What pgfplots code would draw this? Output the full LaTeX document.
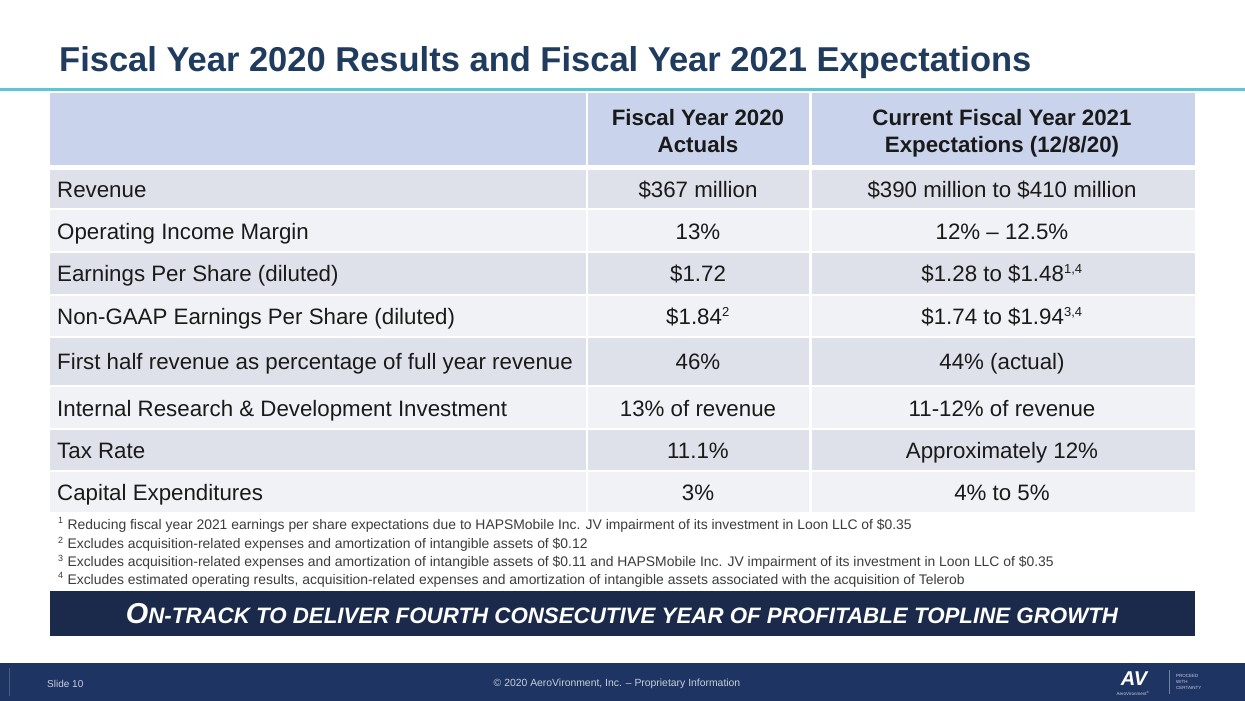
\documentclass[border=0pt]{standalone}
\usepackage{pgfplots}
\pgfplotsset{compat=1.18}
\usepackage{fontspec}
\setmainfont{Liberation Sans}
\definecolor{titleblue}{HTML}{1F3B5E}
\definecolor{tealline}{HTML}{5CC6D6}
\definecolor{hdr}{HTML}{C9D3EB}
\definecolor{rowdark}{HTML}{DEE1EA}
\definecolor{rowlight}{HTML}{F1F2F6}
\definecolor{txt}{HTML}{1A1A1A}
\definecolor{banner}{HTML}{1B2A4B}
\definecolor{footer}{HTML}{1E3462}
\definecolor{foottxt}{HTML}{C9CFDD}
\newcommand{\fs}[1]{\fontsize{#1}{#1}\selectfont}
\newcommand{\sups}[1]{\textsuperscript{\fs{13}#1}}
\newcommand{\fn}[1]{\textsuperscript{\fs{9}#1}}
\tikzset{cell/.style={text=txt, inner sep=0, anchor=base, font=\fs{22.3}},
  lcell/.style={cell, anchor=base west},
  note/.style={text=txt!85!white, inner sep=0, anchor=base west, font=\fs{13.9}}}
\newcommand{\rowband}[3]{%
  \fill[#3] (axis cs:50,#1) rectangle (axis cs:585.5,#2);
  \fill[#3] (axis cs:588,#1) rectangle (axis cs:809,#2);
  \fill[#3] (axis cs:811.5,#1) rectangle (axis cs:1195,#2);}
\begin{document}
\begin{tikzpicture}
\begin{axis}[scale only axis, width=1245pt, height=701pt,
  xmin=0, xmax=1245, ymin=0, ymax=701, y dir=reverse,
  hide axis, clip=false]
% background
\fill[white] (axis cs:0,0) rectangle (axis cs:1245,701);
% title
\node[anchor=base west, inner sep=0, text=titleblue, font=\bfseries\fs{34.5}] at (axis cs:59,72) {Fiscal Year 2020 Results and Fiscal Year 2021 Expectations};
\fill[tealline] (axis cs:0,88) rectangle (axis cs:1245,90.5);
% header
\rowband{93}{165}{hdr}
\node[cell, font=\bfseries\fs{22.3}] at (axis cs:698,125.5) {Fiscal Year 2020};
\node[cell, font=\bfseries\fs{22.3}] at (axis cs:698,152.5) {Actuals};
\node[cell, font=\bfseries\fs{22.3}] at (axis cs:1002,125.5) {Current Fiscal Year 2021};
\node[cell, font=\bfseries\fs{22.3}] at (axis cs:1002,152.5) {Expectations (12/8/20)};
% rows
\rowband{170}{208}{rowdark}
\rowband{210}{251}{rowlight}
\rowband{253}{294}{rowdark}
\rowband{296}{336}{rowlight}
\rowband{338}{385}{rowdark}
\rowband{387}{428}{rowlight}
\rowband{430}{470}{rowdark}
\rowband{472}{512}{rowlight}
\node[lcell] at (axis cs:57,197) {Revenue};
\node[cell] at (axis cs:698,197) {\$367 million};
\node[cell] at (axis cs:1002,197) {\$390 million to \$410 million};
\node[lcell] at (axis cs:57,239) {Operating Income Margin};
\node[cell] at (axis cs:698,239) {13\%};
\node[cell] at (axis cs:1002,239) {12\% – 12.5\%};
\node[lcell] at (axis cs:57,281) {Earnings Per Share (diluted)};
\node[cell] at (axis cs:698,281) {\$1.72};
\node[cell] at (axis cs:1002,281) {\$1.28 to \$1.48\sups{1,4}};
\node[lcell] at (axis cs:57,324) {Non-GAAP Earnings Per Share (diluted)};
\node[cell] at (axis cs:698,324) {\$1.84\sups{2}};
\node[cell] at (axis cs:1002,324) {\$1.74 to \$1.94\sups{3,4}};
\node[lcell] at (axis cs:57,369) {First half revenue as percentage of full year revenue};
\node[cell] at (axis cs:698,369) {46\%};
\node[cell] at (axis cs:1002,369) {44\% (actual)};
\node[lcell] at (axis cs:57,416) {Internal Research \& Development Investment};
\node[cell] at (axis cs:698,416) {13\% of revenue};
\node[cell] at (axis cs:1002,416) {11-12\% of revenue};
\node[lcell] at (axis cs:57,458) {Tax Rate};
\node[cell] at (axis cs:698,458) {11.1\%};
\node[cell] at (axis cs:1002,458) {Approximately 12\%};
\node[lcell] at (axis cs:57,500) {Capital Expenditures};
\node[cell] at (axis cs:698,500) {3\%};
\node[cell] at (axis cs:1002,500) {4\% to 5\%};
% footnotes
\node[note] at (axis cs:58,529) {\fn{1} Reducing fiscal year 2021 earnings per share expectations due to HAPSMobile Inc. JV impairment of its investment in Loon LLC of \$0.35};
\node[note] at (axis cs:58,548.5) {\fn{2} Excludes acquisition-related expenses and amortization of intangible assets of \$0.12};
\node[note] at (axis cs:58,566.5) {\fn{3} Excludes acquisition-related expenses and amortization of intangible assets of \$0.11 and HAPSMobile Inc. JV impairment of its investment in Loon LLC of \$0.35};
\node[note] at (axis cs:58,584) {\fn{4} Excludes estimated operating results, acquisition-related expenses and amortization of intangible assets associated with the acquisition of Telerob};
% banner
\fill[banner] (axis cs:50,591) rectangle (axis cs:1195,636);
\node[inner sep=0, anchor=base, text=white, font=\bfseries\itshape\fs{28.8}] at (axis cs:622,623) {O{\fs{22.3}N-TRACK TO DELIVER FOURTH CONSECUTIVE YEAR OF PROFITABLE TOPLINE GROWTH}};
% footer
\fill[footer] (axis cs:0,663) rectangle (axis cs:1245,701);
\draw[foottxt!25!footer, line width=1pt] (axis cs:9,668) -- (axis cs:9,696);
\node[anchor=west, inner sep=0, text=foottxt, font=\fs{10}] at (axis cs:47,684) {Slide 10};
\node[inner sep=0, text=foottxt, font=\fs{10.4}] at (axis cs:617,684) {© 2020 AeroVironment, Inc. – Proprietary Information};
\node[inner sep=0, text=white, font=\bfseries\itshape\fs{20}] at (axis cs:1134,679) {AV};
\node[inner sep=0, text=foottxt, font=\fs{4.5}] at (axis cs:1133,693) {AeroVironment\textsuperscript{®}};
\draw[foottxt!50!footer, line width=0.6pt] (axis cs:1169,670) -- (axis cs:1169,694);
\node[anchor=west, align=left, inner sep=0, text=foottxt, font=\fs{4.5}] at (axis cs:1176,682) {PROCEED\\[1.5pt]WITH\\[1.5pt]CERTAINTY};
\end{axis}
\end{tikzpicture}
\end{document}
